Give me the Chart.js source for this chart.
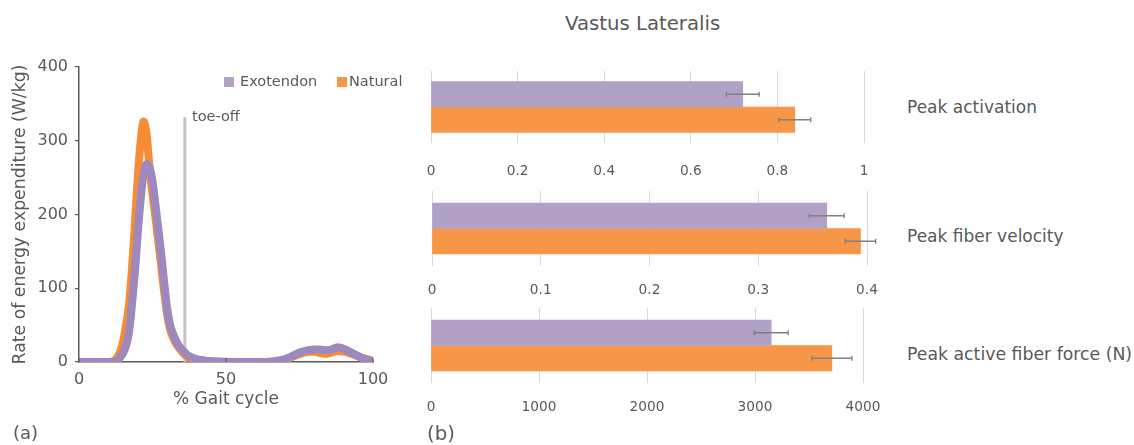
<!DOCTYPE html>
<html>
<head>
<meta charset="utf-8">
<script src="https://cdn.jsdelivr.net/npm/chart.js@4"></script>
<style>
  html, body { margin: 0; padding: 0; background: #ffffff; }
  body { width: 1134px; height: 445px; position: relative; overflow: hidden;
         font-family: "DejaVu Sans", Verdana, sans-serif; color: #595959; }
  canvas { position: absolute; }
  .t { position: absolute; white-space: nowrap; line-height: 1; }
  .sw { position: absolute; width: 10px; height: 10px; }
</style>
</head>
<body>
<canvas id="gait" width="400" height="445" style="left:0;top:0"></canvas>
<div id="texts"></div>

<script>
// ---- (a) energy expenditure over the gait cycle ----
const gaitPct = [0, 2, 4, 6, 8, 10, 11, 12, 13, 14, 15, 16, 17, 18, 19, 20, 21, 22, 23, 24, 25,
  26, 27, 28, 29, 30, 31, 32, 33, 34, 35, 36, 37, 38, 40, 42, 45, 48, 52, 56, 60, 64, 66, 68,
  70, 72, 74, 76, 78, 80, 82, 84, 86, 88, 90, 92, 94, 96, 98, 100];
const exotendon = [0, 0, 0, 0, 0, 0, 0, 0, 2, 6, 12, 22, 40, 77, 122, 175, 222, 256, 268, 264, 245,
  213, 180, 145, 107, 72, 50, 38, 29, 22, 17, 13, 9, 7, 4, 2.5, 1, 0.5, 0, 0, 0, 0, 1, 2,
  4, 7, 11, 14, 16, 17, 17, 16, 17, 20, 18, 14, 10, 6, 3, 1];
const natural = [0, 0, 0, 0, 0, 0, 0.5, 2, 6, 14, 28, 50, 77, 125, 185, 250, 300, 326, 308, 262, 228,
  196, 163, 128, 94, 64, 44, 33, 25, 19, 14, 10, 7, 5, 3, 2, 1, 0.5, 0, 0, 0, 0, 0, 1,
  3, 6, 9, 12, 14, 14, 12, 11, 13, 15, 14, 12, 9, 6, 4, 2];
const toeOffPct = 36;
const toeOffTop = 332;
const seriesNames = ['Exotendon', 'Natural'];

// ---- (b) Vastus Lateralis peak values ----
const muscleName = 'Vastus Lateralis';
const barLabels = ['Peak activation', 'Peak fiber velocity', 'Peak active fiber force (N)'];
const exoMean = [0.72, 0.363, 3150];
const exoErr = [0.038, 0.016, 157];
const natMean = [0.84, 0.394, 3712];
const natErr = [0.037, 0.014, 185];
const barMax = [1, 0.4, 4000];
const barStep = [0.2, 0.1, 1000];

const FONT = '"DejaVu Sans", Verdana, sans-serif';
const GREY = '#595959';
const PURPLE_LINE = '#9d89be';
const ORANGE_LINE = '#f68d35';
const PURPLE_BAR = '#b1a1c7';
const ORANGE_BAR = '#f79646';

Chart.defaults.font.family = FONT;
Chart.defaults.color = GREY;

// small inward tick marks on the gait-cycle axis
const innerTicks = {
  id: 'innerTicks',
  afterDraw(chart) {
    const x = chart.scales.x, ctx = chart.ctx, b = chart.chartArea.bottom;
    ctx.save();
    ctx.strokeStyle = GREY; ctx.lineWidth = 1.2;
    x.ticks.forEach(t => {
      const px = x.getPixelForValue(t.value);
      ctx.beginPath(); ctx.moveTo(px, b); ctx.lineTo(px, b - 4); ctx.stroke();
    });
    ctx.restore();
  }
};

new Chart(document.getElementById('gait'), {
  type: 'line',
  data: {
    datasets: [
      { label: seriesNames[0], data: gaitPct.map((x, i) => ({ x, y: exotendon[i] })),
        borderColor: PURPLE_LINE, borderWidth: 8, pointRadius: 0,
        cubicInterpolationMode: 'monotone', borderCapStyle: 'round', borderJoinStyle: 'round' },
      { label: seriesNames[1], data: gaitPct.map((x, i) => ({ x, y: natural[i] })),
        borderColor: ORANGE_LINE, borderWidth: 8, pointRadius: 0,
        cubicInterpolationMode: 'monotone', borderCapStyle: 'round', borderJoinStyle: 'round' },
      { label: 'toe-off', data: [{ x: toeOffPct, y: 0 }, { x: toeOffPct, y: toeOffTop }],
        borderColor: '#c4c4c4', borderWidth: 3, pointRadius: 0 }
    ]
  },
  options: {
    responsive: false, animation: false,
    layout: { padding: { top: 67, left: 10, right: 27, bottom: 35 } },
    plugins: { legend: { display: false }, tooltip: { enabled: false } },
    scales: {
      x: {
        type: 'linear', min: 0, max: 100,
        ticks: { stepSize: 50, padding: 8.4, color: GREY, font: { size: 16 } },
        grid: { display: false, drawTicks: false },
        border: { display: true, color: GREY, width: 1.5 },
        title: { display: true, text: '% Gait cycle', color: GREY, font: { size: 17 }, padding: 0 },
        afterFit(s) { s.height = 48; s.paddingLeft = 0; s.paddingRight = 0; }
      },
      y: {
        min: 0, max: 400,
        ticks: { stepSize: 100, padding: 7, color: GREY, font: { size: 16 } },
        grid: { drawOnChartArea: false, drawTicks: true, tickLength: 4, color: GREY, lineWidth: 1.2 },
        border: { display: true, color: GREY, width: 1.5 },
        title: { display: true, text: 'Rate of energy expenditure (W/kg)', color: GREY,
                 font: { size: 17.3 }, padding: 0 },
        afterFit(s) { s.width = 69; s.paddingTop = 0; s.paddingBottom = 0; }
      }
    }
  },
  plugins: [innerTicks]
});

// error bars drawn through the value scale
const errorBars = {
  id: 'errorBars',
  afterDatasetsDraw(chart) {
    const { ctx } = chart, x = chart.scales.x;
    ctx.save();
    ctx.strokeStyle = '#808080'; ctx.lineWidth = 1.3;
    chart.data.datasets.forEach((ds, i) => {
      chart.getDatasetMeta(i).data.forEach((bar, j) => {
        const v = ds.data[j], e = ds.errors[j], y = bar.y;
        const x0 = x.getPixelForValue(v - e), x1 = x.getPixelForValue(v + e);
        ctx.beginPath();
        ctx.moveTo(x0, y); ctx.lineTo(x1, y);
        ctx.moveTo(x0, y - 2.5); ctx.lineTo(x0, y + 2.5);
        ctx.moveTo(x1, y - 2.5); ctx.lineTo(x1, y + 2.5);
        ctx.stroke();
      });
    });
    ctx.restore();
  }
};

// panel placement for the three bar charts
const panels = [
  { top: 60,  h: 125, padL: 11, padR: 26, padT: 11, scaleH: 42, tickPad: 20 },
  { top: 180, h: 125, padL: 12, padR: 23, padT: 11, scaleH: 39, tickPad: 16.7 },
  { top: 297, h: 125, padL: 11, padR: 27, padT: 11, scaleH: 39, tickPad: 16.4 }
];

barLabels.forEach((lab, k) => {
  const p = panels[k];
  const cv = document.createElement('canvas');
  cv.width = 470; cv.height = p.h;
  cv.style.left = '420px'; cv.style.top = p.top + 'px';
  document.body.appendChild(cv);
  new Chart(cv, {
    type: 'bar',
    data: {
      labels: [lab],
      datasets: [
        { label: seriesNames[0], data: [exoMean[k]], errors: [exoErr[k]],
          backgroundColor: PURPLE_BAR, barThickness: 25.5 },
        { label: seriesNames[1], data: [natMean[k]], errors: [natErr[k]],
          backgroundColor: ORANGE_BAR, barThickness: 25.5 }
      ]
    },
    options: {
      indexAxis: 'y', responsive: false, animation: false,
      layout: { padding: { top: p.padT, left: p.padL, right: p.padR, bottom: 0 } },
      plugins: { legend: { display: false }, tooltip: { enabled: false } },
      scales: {
        y: { display: false },
        x: {
          min: 0, max: barMax[k],
          ticks: { stepSize: barStep[k], padding: p.tickPad, color: GREY, font: { size: 13.7 },
                   callback: v => String(+v.toFixed(4)) },
          grid: { color: '#d9d9d9', lineWidth: 1, drawTicks: false },
          border: { display: false },
          afterFit(s) { s.height = p.scaleH; s.paddingLeft = 0; s.paddingRight = 0; }
        }
      }
    },
    plugins: [errorBars]
  });
});

// text annotations
const texts = document.getElementById('texts');
function addText(str, left, top, size) {
  const d = document.createElement('div');
  d.className = 't';
  d.textContent = str;
  d.style.left = left + 'px'; d.style.top = top + 'px'; d.style.fontSize = size + 'px';
  texts.appendChild(d);
  return d;
}
function addSwatch(color, left, top) {
  const d = document.createElement('div');
  d.className = 'sw';
  d.style.left = left + 'px'; d.style.top = top + 'px'; d.style.background = color;
  texts.appendChild(d);
}
addSwatch(PURPLE_BAR, 224, 77);
addText(seriesNames[0], 240, 73.5, 14.5);
addSwatch(ORANGE_BAR, 337, 77);
addText(seriesNames[1], 349, 73.5, 14.5);
addText('toe-off', 192, 109, 14.5);
addText('(a)', 13, 424, 18);
addText('(b)', 427, 423.5, 19.8);
addText(muscleName, 565, 13.5, 19.7);
const labelTops = [99, 227.5, 346];
barLabels.forEach((lab, k) => addText(lab, 907, labelTops[k], k === 2 ? 17.3 : 17));
</script>
</body>
</html>
